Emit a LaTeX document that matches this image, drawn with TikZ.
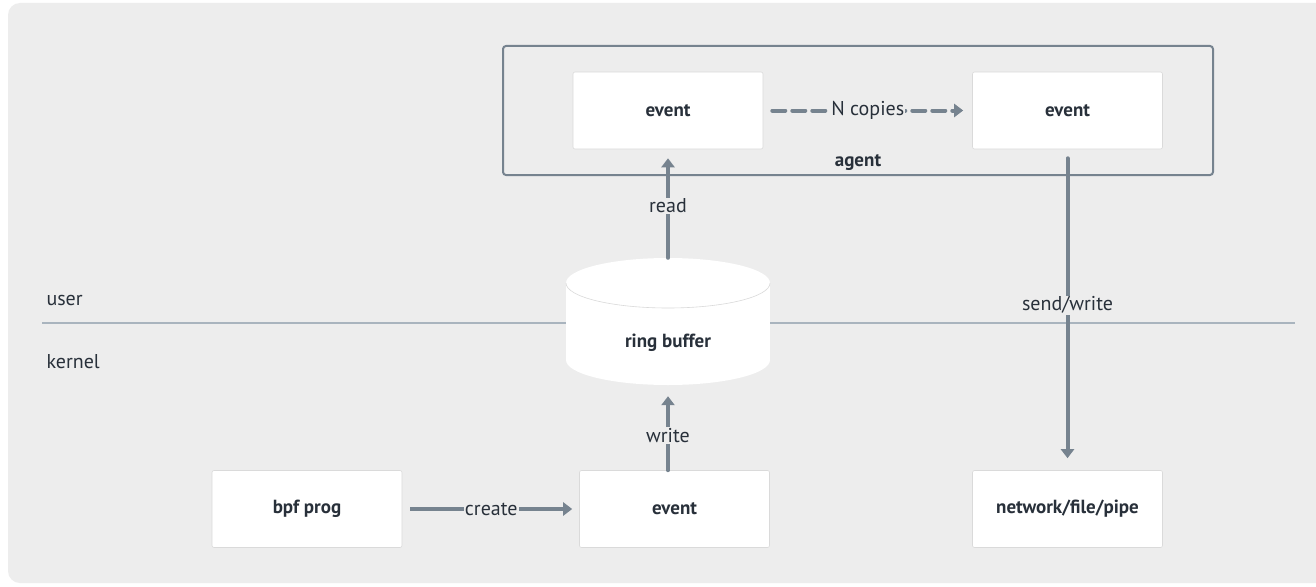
\documentclass[tikz,border=0pt]{standalone}
\usepackage{fontspec}
\setmainfont{PT Sans}
\usetikzlibrary{arrows.meta}
\definecolor{bg}{HTML}{EDEDED}
\definecolor{arr}{HTML}{76838F}
\definecolor{txt}{HTML}{28303A}
\definecolor{sep}{HTML}{A9B4BE}
\definecolor{edge}{HTML}{DADADA}
\tikzset{
  box/.style={draw=edge, line width=0.6pt, fill=white, rounded corners=2pt, minimum width=190pt, minimum height=77pt, inner sep=0pt, font=\fontsize{19}{21}\selectfont\bfseries, text=txt},
  conn/.style={draw=arr, line width=4pt, -{Triangle[length=9pt,width=13pt]}},
  lbl/.style={fill=bg, inner sep=1pt, font=\fontsize{20}{22}\selectfont, text=txt},
  side/.style={font=\fontsize{20}{22}\selectfont, text=txt, anchor=west}
}
\begin{document}
\begin{tikzpicture}[x=1pt,y=-1pt]
\useasboundingbox (0,0) rectangle (1316,586);
\fill[white] (0,0) rectangle (1316,586);
\fill[bg, rounded corners=12pt] (8,3) rectangle (1330,583);
% user/kernel separator
\coordinate (sepL) at (42,323);
\coordinate (sepR) at (1295,323);
\draw[sep, line width=2.5pt] (sepL) -- (sepR);
\node[side] (user) at (43,300) {user};
\node[side] (kernel) at (43,362) {kernel};
% agent box
\node[draw=arr, line width=2pt, rounded corners=3pt, minimum width=710pt, minimum height=129pt, inner sep=0pt] (agent) at (858,110.5) {};
\node[font=\fontsize{19}{21}\selectfont\bfseries, text=txt] (agentlbl) at (858,163) {agent};
\node[box] (ev1) at (668,110.5) {event};
\node[box] (ev2) at (1067.5,110.5) {event};
% cylinder
\fill[white] (668,360) ellipse[x radius=102, y radius=25];
\fill[white] (566,283) rectangle (770,360);
\fill[white] (668,283) ellipse[x radius=102, y radius=25];
\draw[edge, line width=0.6pt] (566,283) arc[start angle=180, end angle=0, x radius=102, y radius=25];
\node[minimum width=204pt, minimum height=127pt, inner sep=0pt] (rb) at (668,321.5) {};
\node[font=\fontsize{19}{21}\selectfont\bfseries, text=txt] (rbl) at (668,343) {ring buffer};
% bottom row
\node[box] (bpf) at (307,509) {bpf prog};
\node[box] (ev3) at (674.5,509) {event};
\node[box] (net) at (1067.5,509) {network/file/pipe};
% connectors
\draw[conn] ([xshift=8pt]bpf.east) -- node[lbl]{create} ([xshift=-7pt]ev3.west);
\draw[conn, line cap=round] (ev3.north -| rb.south) -- node[lbl, pos=0.47]{write} ([yshift=-11pt]rb.south);
\draw[conn, line cap=round] (rb.north) -- node[lbl, pos=0.52]{read} ([yshift=-9pt]ev1.south);
\draw[conn, dash pattern=on 13pt off 7pt, line cap=round] ([xshift=9pt]ev1.east) -- node[lbl, pos=0.5]{N copies} ([xshift=-9pt]ev2.west);
\draw[conn, line cap=round] ([yshift=-9pt]ev2.south) -- node[lbl, pos=0.49]{send/write} ([yshift=12pt]net.north);
\end{tikzpicture}
\end{document}
